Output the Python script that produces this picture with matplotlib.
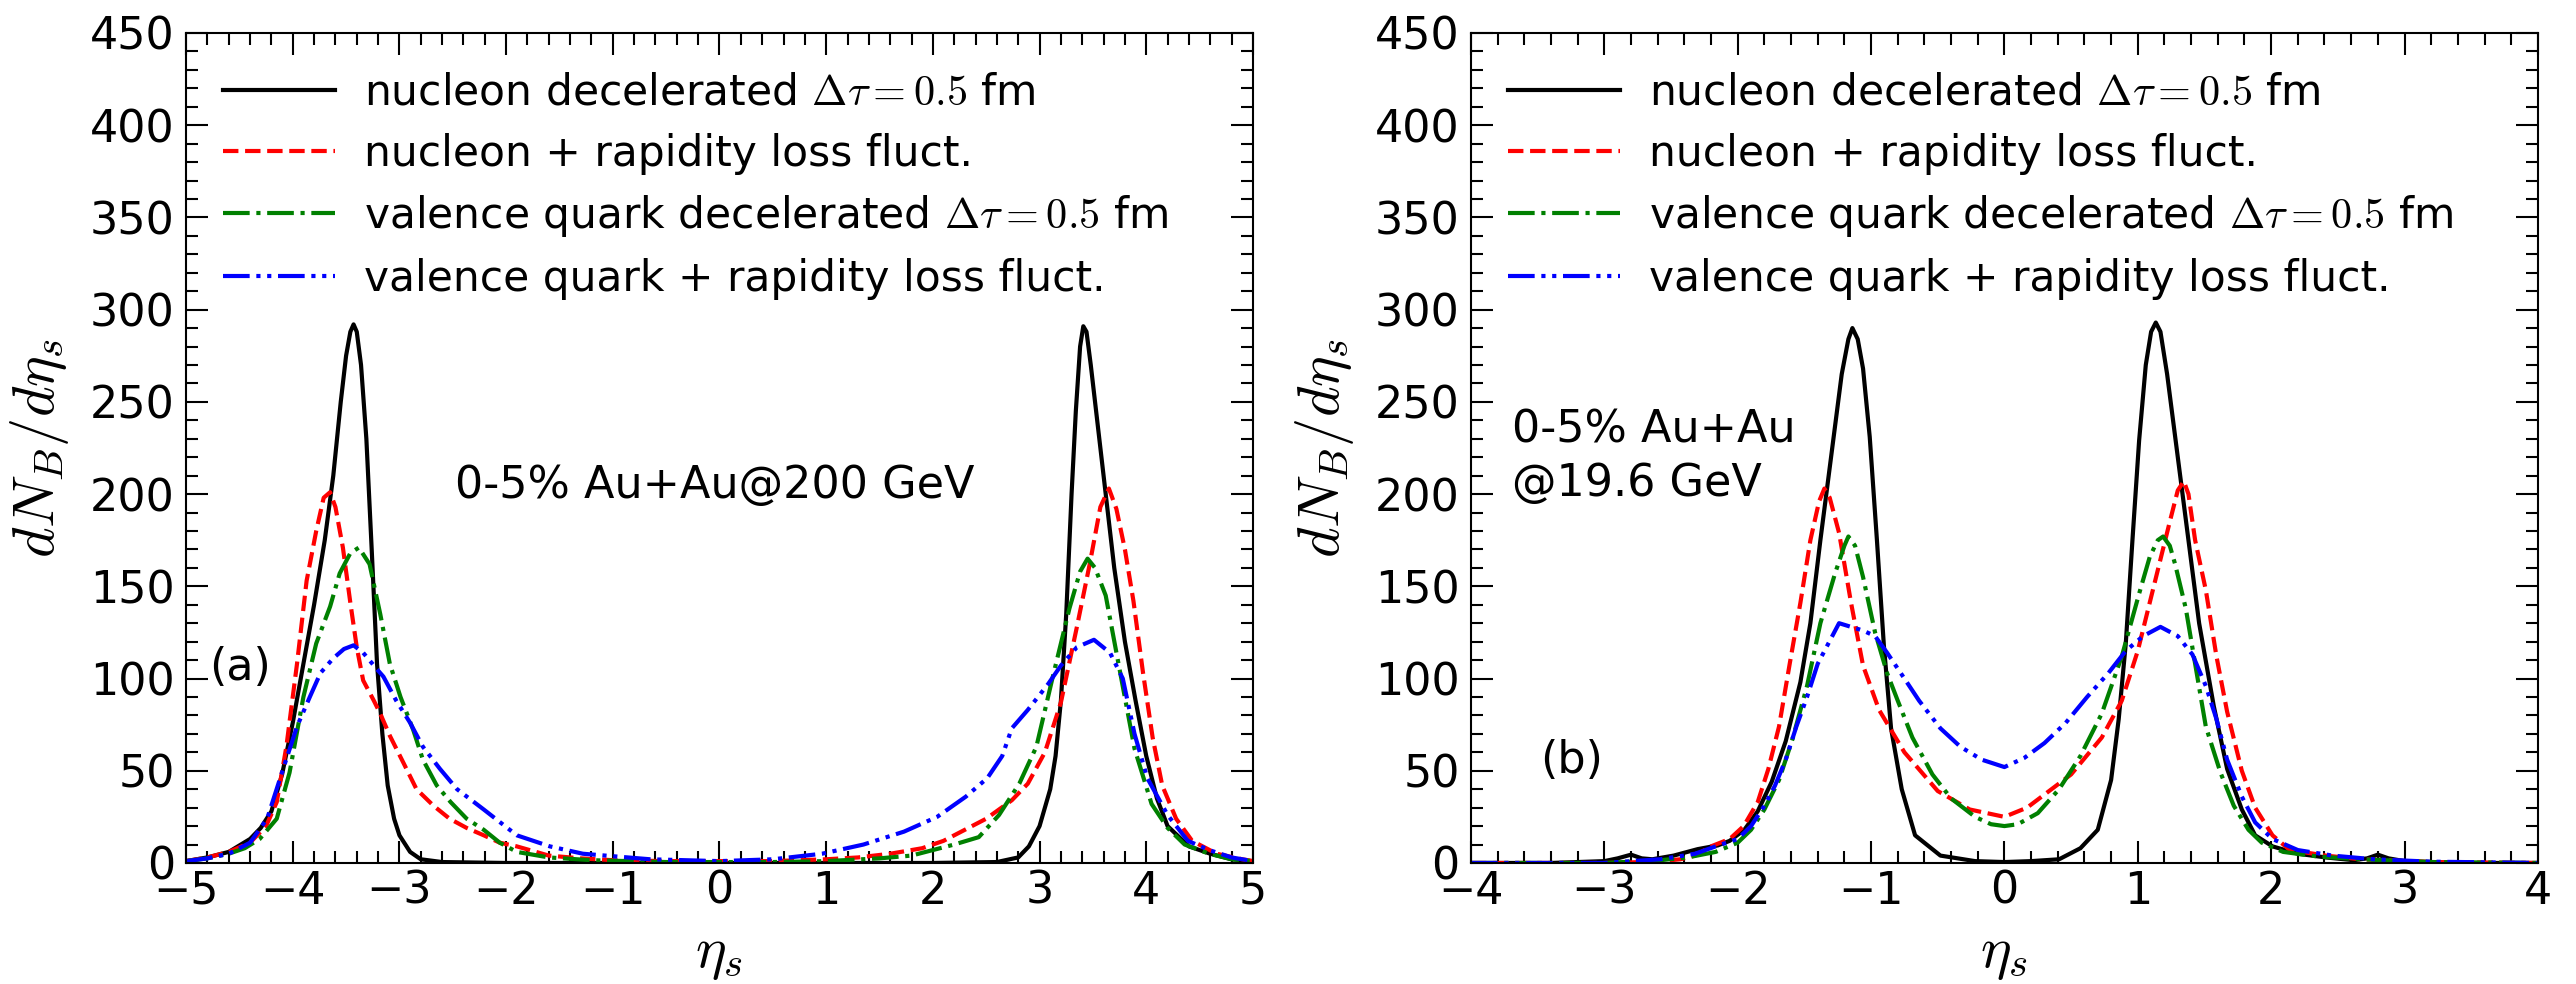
import numpy as np
import matplotlib
matplotlib.use("Agg")
import matplotlib.pyplot as plt
from matplotlib.ticker import MultipleLocator

plt.rcParams["mathtext.fontset"] = "cm"

# ---- panel (a): 0-5% Au+Au @ 200 GeV ----
eta_a_nuc = [-5.0, -4.8, -4.6, -4.4, -4.3, -4.2, -4.1, -4.0, -3.9, -3.8, -3.7, -3.62, -3.55, -3.5,
             -3.46, -3.43, -3.4, -3.36, -3.31, -3.26, -3.21, -3.16, -3.11, -3.05, -3.0, -2.9, -2.8,
             -2.6, -2.0, 2.0, 2.6, 2.8, 2.9, 3.0, 3.1, 3.15, 3.2, 3.25, 3.3, 3.34, 3.38, 3.41, 3.44,
             3.48, 3.54, 3.6, 3.7, 3.8, 3.9, 4.0, 4.1, 4.2, 4.4, 4.6, 4.8, 5.0]
dn_a_nuc = [1, 3, 6, 13, 19, 28, 48, 76, 108, 140, 175, 210, 250, 275,
            288, 292, 288, 270, 230, 170, 108, 70, 42, 24, 15, 6, 2,
            0.5, 0, 0, 0.5, 3, 9, 20, 40, 58, 88, 135, 200, 245, 280, 291, 288,
            270, 240, 210, 160, 120, 88, 58, 35, 20, 9, 5, 2, 1]

eta_a_nuc_fl = [-5.0, -4.8, -4.6, -4.4, -4.25, -4.15, -4.06, -3.96, -3.87, -3.78, -3.71, -3.65,
                -3.6, -3.53, -3.46, -3.4, -3.34, -3.24, -3.18, -3.09, -2.96, -2.84, -2.68, -2.53,
                -2.37, -2.21, -2.06, -1.9, -1.6, -1.3, -1.0, -0.5, 0.0, 0.5, 1.0, 1.3, 1.6, 1.9,
                2.1, 2.3, 2.5, 2.74, 2.89, 3.05, 3.2, 3.35, 3.47, 3.57, 3.65, 3.72, 3.8, 3.88,
                3.97, 4.06, 4.15, 4.28, 4.43, 4.66, 4.9, 5.0]
dn_a_nuc_fl = [1, 3, 6, 11, 20, 33, 63, 108, 153, 180, 198, 201,
               193, 171, 141, 117, 99, 88, 81, 69, 54, 40, 31, 24,
               19, 15, 11, 9, 4, 2.5, 1.5, 1, 1, 1, 2, 3, 5, 8,
               12, 18, 24, 34, 43, 60, 87, 128, 162, 193, 203, 192, 170, 142,
               103, 68, 42, 24, 12, 5, 2, 1]

eta_a_q = [-5.0, -4.8, -4.6, -4.45, -4.31, -4.15, -4.03, -3.9, -3.78, -3.65, -3.56, -3.46, -3.38,
           -3.28, -3.18, -3.09, -2.99, -2.87, -2.78, -2.65, -2.52, -2.37, -2.21, -2.06, -1.9,
           -1.6, -1.2, -0.5, 0.0, 0.5, 1.0, 1.5, 1.8, 2.0, 2.2, 2.43, 2.62, 2.81, 2.97, 3.12,
           3.28, 3.38, 3.45, 3.52, 3.62, 3.74, 3.89, 4.05, 4.2, 4.36, 4.59, 4.8, 5.0]
dn_a_q = [1, 2.5, 5, 8, 13, 24, 49, 90, 119, 139, 157, 168, 171,
          162, 135, 108, 90, 72, 56, 42, 33, 24, 18, 11, 6,
          3, 1.5, 0.5, 0.5, 0.5, 1, 2.5, 4, 7, 10, 14, 26, 43, 63, 100,
          138, 158, 165, 160, 145, 108, 62, 32, 19, 10, 5, 2, 1]

eta_a_q_fl = [-5.0, -4.8, -4.6, -4.4, -4.24, -4.09, -3.96, -3.84, -3.74, -3.62, -3.52, -3.43,
              -3.34, -3.21, -3.15, -3.03, -2.9, -2.78, -2.62, -2.46, -2.21, -1.9, -1.59, -1.28,
              -0.65, 0.0, 0.5, 0.96, 1.35, 1.73, 2.04, 2.31, 2.51, 2.65, 2.74, 2.89, 3.08, 3.2,
              3.35, 3.51, 3.66, 3.78, 3.89, 4.01, 4.2, 4.39, 4.59, 4.8, 5.0]
dn_a_q_fl = [1, 2.5, 5, 11, 24, 51, 74, 90, 103, 111, 116, 118,
             114, 105, 101, 88, 76, 63, 51, 40, 29, 15, 9, 5,
             2, 1, 2, 5, 10, 17, 25, 36, 46, 58, 73, 83, 97, 107,
             117, 121, 114, 100, 70, 46, 26, 12, 7, 3, 1]

# ---- panel (b): 0-5% Au+Au @ 19.6 GeV ----
eta_b_nuc = [-4.0, -3.4, -3.0, -2.9, -2.8, -2.72, -2.64, -2.48, -2.3, -2.15, -2.06, -1.95, -1.85,
             -1.745, -1.64, -1.53, -1.455, -1.38, -1.3, -1.22, -1.17, -1.14, -1.1, -1.06, -1.01,
             -0.956, -0.904, -0.85, -0.77, -0.67, -0.48, -0.22, 0.0, 0.2, 0.41, 0.57, 0.7, 0.8,
             0.857, 0.91, 0.96, 1.01, 1.06, 1.1, 1.135, 1.17, 1.22, 1.30, 1.38, 1.46, 1.57, 1.67,
             1.78, 1.88, 2.01, 2.2, 2.41, 2.62, 2.72, 2.8, 2.88, 3.0, 3.4, 4.0]
dn_b_nuc = [0, 0, 1, 2.5, 4.5, 2.5, 2, 4, 7.5, 9.5, 12, 18, 28,
            44, 66, 98, 130, 175, 220, 265, 284, 290, 284, 268, 231,
            175, 118, 73, 40, 15, 4, 1, 0.5, 1, 2, 8, 18, 45,
            78, 119, 175, 229, 270, 288, 293, 288, 265, 220, 175, 130, 85, 51,
            29, 15, 9, 5, 3, 1.5, 2.5, 4.5, 2.5, 1, 0, 0]

eta_b_nuc_fl = [-4.0, -3.0, -2.7, -2.58, -2.43, -2.32, -2.2, -2.06, -1.955, -1.85, -1.77, -1.69,
                -1.61, -1.53, -1.455, -1.39, -1.35, -1.31, -1.24, -1.15, -1.06, -0.94, -0.75,
                -0.5, -0.26, 0.0, 0.17, 0.5, 0.73, 0.88, 1.0, 1.12, 1.24, 1.3, 1.345, 1.38,
                1.43, 1.51, 1.59, 1.67, 1.78, 1.88, 2.01, 2.14, 2.41, 2.67, 3.2, 4.0]
dn_b_nuc_fl = [0, 0, 0.5, 1, 2, 4, 9, 13, 20, 33, 51, 74,
               108, 141, 175, 196, 203, 198, 179, 141, 107, 83, 60,
               39, 29, 25, 30, 48, 68, 88, 115, 150, 185, 202, 207, 200,
               175, 148, 112, 82, 50, 30, 15, 7, 4, 2, 0.5, 0]

eta_b_q = [-4.0, -3.0, -2.58, -2.375, -2.165, -2.0, -1.9, -1.8, -1.69, -1.59, -1.48, -1.38, -1.27,
           -1.2, -1.17, -1.12, -1.06, -0.97, -0.88, -0.8, -0.69, -0.54, -0.4, -0.22, -0.1, 0.0,
           0.1, 0.25, 0.41, 0.57, 0.73, 0.88, 1.01, 1.09, 1.15, 1.19, 1.24, 1.28, 1.36, 1.43,
           1.51, 1.62, 1.72, 1.83, 1.93, 2.09, 2.35, 2.67, 3.2, 4.0]
dn_b_q = [0, 0, 1.5, 3, 6, 11, 18, 29, 45, 67, 96, 130, 157,
          172, 177, 172, 155, 125, 103, 88, 68, 48, 35, 25, 21, 20,
          21, 27, 40, 58, 81, 112, 146, 166, 175, 177, 172, 162, 138, 108,
          74, 49, 31, 18, 11, 6, 3.5, 2, 0.5, 0]

eta_b_q_fl = [-4.0, -3.0, -2.58, -2.32, -2.165, -2.0, -1.9, -1.8, -1.72, -1.64, -1.56, -1.48, -1.4,
              -1.32, -1.24, -1.15, -1.06, -0.97, -0.88, -0.75, -0.64, -0.48, -0.33, -0.17, 0.0,
              0.15, 0.3, 0.46, 0.62, 0.78, 0.91, 1.04, 1.17, 1.3, 1.41, 1.51, 1.59, 1.67, 1.78,
              1.88, 2.01, 2.2, 2.46, 2.77, 3.2, 4.0]
dn_b_q_fl = [0, 0, 2, 5, 9, 13, 20, 31, 42, 56, 74, 90, 108,
             119, 130, 128, 126, 123, 114, 100, 88, 73, 63, 56, 52,
             57, 65, 76, 90, 103, 115, 123, 128, 123, 113, 96, 78, 56, 36,
             22, 13, 7, 4, 2, 0.7, 0]

labels = [r"nucleon decelerated $\Delta\tau = 0.5$ fm",
          "nucleon + rapidity loss fluct.",
          r"valence quark decelerated $\Delta\tau = 0.5$ fm",
          "valence quark + rapidity loss fluct."]

FS = 32
LW = 3.0


def style_axes(ax, xlim):
    ax.set_xlim(*xlim)
    ax.set_ylim(0, 450)
    ax.xaxis.set_major_locator(MultipleLocator(1))
    ax.xaxis.set_minor_locator(MultipleLocator(0.2))
    ax.yaxis.set_major_locator(MultipleLocator(50))
    ax.yaxis.set_minor_locator(MultipleLocator(10))
    ax.tick_params(which="both", direction="in", top=True, right=True, width=1.5,
                   labelsize=FS)
    ax.tick_params(which="major", length=16)
    ax.tick_params(which="minor", length=8.5)
    ax.tick_params(axis="x", pad=5)
    ax.tick_params(axis="y", pad=8)
    for s in ax.spines.values():
        s.set_linewidth(1.5)
    ax.set_xlabel(r"$\eta_s$", fontsize=42)
    ax.set_ylabel(r"$dN_B/d\eta_s$", fontsize=42)
    ax.xaxis.set_label_coords(0.5, -0.075)
    ax.yaxis.set_label_coords(-0.108, 0.5)


def draw(ax, curves):
    styles = [dict(color="k", ls="-"),
              dict(color="r", ls="--"),
              dict(color="g", ls="-."),
              dict(color="b", ls=(0, (6.4, 1.6, 1, 1.6, 1, 1.6)))]
    for (x, y), st, lab in zip(curves, styles, labels):
        ax.plot(x, y, lw=LW, label=lab, **st)
    ax.legend(loc="upper left", bbox_to_anchor=(0.035, 0.953), frameon=False, fontsize=30.5,
              borderpad=0, borderaxespad=0, labelspacing=0.44, handlelength=2.64,
              handletextpad=0.68)


fig = plt.figure(figsize=(25.77, 9.84), dpi=100)
ax1 = fig.add_axes([0.0722, 0.1230, 0.4140, 0.8435])
ax2 = fig.add_axes([0.5712, 0.1230, 0.4140, 0.8435])

draw(ax1, [(eta_a_nuc, dn_a_nuc), (eta_a_nuc_fl, dn_a_nuc_fl),
           (eta_a_q, dn_a_q), (eta_a_q_fl, dn_a_q_fl)])
style_axes(ax1, (-5, 5))
ax1.text(-2.48, 198, "0-5% Au+Au@200 GeV", fontsize=FS, va="baseline")
ax1.text(-4.78, 99, "(a)", fontsize=FS, va="baseline")

draw(ax2, [(eta_b_nuc, dn_b_nuc), (eta_b_nuc_fl, dn_b_nuc_fl),
           (eta_b_q, dn_b_q), (eta_b_q_fl, dn_b_q_fl)])
style_axes(ax2, (-4, 4))
ax2.text(-3.69, 228, "0-5% Au+Au", fontsize=FS, va="baseline")
ax2.text(-3.69, 199, "@19.6 GeV", fontsize=FS, va="baseline")
ax2.text(-3.48, 49, "(b)", fontsize=FS, va="baseline")

fig.savefig("out.png", dpi=100)
